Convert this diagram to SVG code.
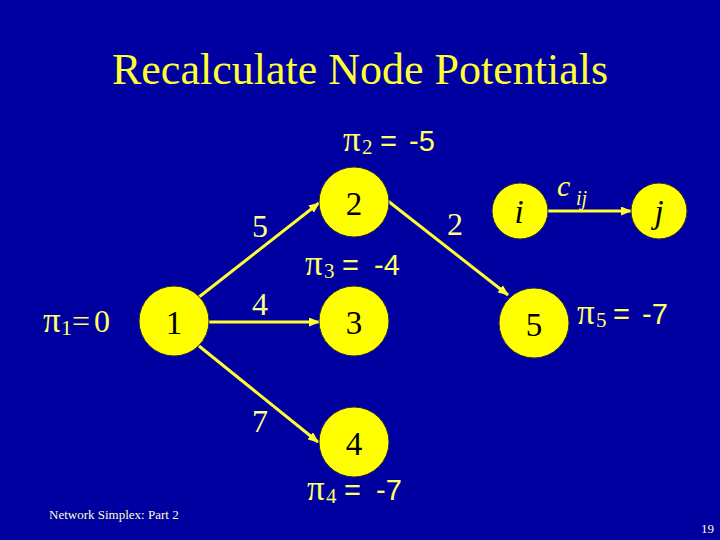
<svg xmlns="http://www.w3.org/2000/svg" width="720" height="540" viewBox="0 0 720 540">
<defs>
<style>
.bg{fill:#0000A0}
.node{fill:#FFFF00;stroke:#2a2a40;stroke-width:1}
.nt{font-family:"Liberation Serif","Times New Roman",serif;font-size:33px;fill:#000;text-anchor:middle}
.it{font-style:italic}
.edge{stroke:#FFFF33;stroke-width:3;fill:none}
.el{font-family:"Liberation Serif","Times New Roman",serif;font-size:32px;fill:#FFFF88;text-anchor:middle}
.pi{font-family:"Liberation Serif","Times New Roman",serif;fill:#FFFF66}
.sans{font-family:"Liberation Sans",Arial,sans-serif;fill:#FFFF66;font-size:29px}
.title{font-family:"Liberation Serif","Times New Roman",serif;font-size:44px;fill:#FFFF33;text-anchor:middle}
.foot{font-family:"Liberation Serif","Times New Roman",serif;font-size:13px;fill:#FFFFCC}
</style>
<marker id="ah" markerWidth="11" markerHeight="9" refX="10" refY="4.5" orient="auto" markerUnits="userSpaceOnUse">
<path d="M0,0 L11,4.5 L0,9 Z" fill="#FFFF33"/>
</marker>
</defs>
<rect class="bg" x="0" y="0" width="720" height="540"/>
<text class="title" x="360" y="84">Recalculate Node Potentials</text>

<g id="connectors">
<line class="edge" x1="199" y1="297" x2="319" y2="203" marker-end="url(#ah)"/>
<line class="edge" x1="209" y1="322" x2="319" y2="322" marker-end="url(#ah)"/>
<line class="edge" x1="199" y1="346" x2="318" y2="442" marker-end="url(#ah)"/>
<line class="edge" x1="388" y1="201" x2="508" y2="295" marker-end="url(#ah)"/>
<line class="edge" x1="548" y1="211" x2="631" y2="211" marker-end="url(#ah)"/>
<text class="el" x="260" y="237">5</text>
<text class="el" x="260" y="315">4</text>
<text class="el" x="260" y="432">7</text>
<text class="el" x="455" y="235">2</text>
<text class="pi it" x="557" y="196" font-size="30">c</text>
<text class="pi it" x="576" y="205" font-size="20">ij</text>
</g>

<g id="node1">
<circle class="node" cx="174" cy="321" r="35"/>
<text class="nt" x="174" y="334">1</text>
</g>
<g id="node2">
<circle class="node" cx="354" cy="202" r="35"/>
<text class="nt" x="354" y="215">2</text>
</g>
<g id="node3">
<circle class="node" cx="354" cy="321" r="35"/>
<text class="nt" x="354" y="334">3</text>
</g>
<g id="node4">
<circle class="node" cx="354" cy="442" r="35"/>
<text class="nt" x="354" y="455">4</text>
</g>
<g id="node5">
<circle class="node" cx="534" cy="323" r="35"/>
<text class="nt" x="534" y="336">5</text>
</g>
<g id="nodei">
<circle class="node" cx="520" cy="211" r="28"/>
<text class="nt it" x="519" y="223">i</text>
</g>
<g id="nodej">
<circle class="node" cx="659" cy="211" r="28"/>
<text class="nt it" x="659" y="223">j</text>
</g>

<g id="potentials">
<text y="151"><tspan class="pi" x="343" font-size="35">π</tspan><tspan class="pi" x="362" dy="3" font-size="21">2</tspan><tspan class="sans" x="380" dy="-3">=</tspan><tspan class="sans" x="409">-5</tspan></text>
<text y="275"><tspan class="pi" x="305" font-size="35">π</tspan><tspan class="pi" x="324" dy="3" font-size="21">3</tspan><tspan class="sans" x="342" dy="-3">=</tspan><tspan class="sans" x="374">-4</tspan></text>
<text y="500"><tspan class="pi" x="307" font-size="35">π</tspan><tspan class="pi" x="326" dy="3" font-size="21">4</tspan><tspan class="sans" x="344" dy="-3">=</tspan><tspan class="sans" x="376">-7</tspan></text>
<text y="324"><tspan class="pi" x="577" font-size="35">π</tspan><tspan class="pi" x="596" dy="3" font-size="21">5</tspan><tspan class="sans" x="613" dy="-3">=</tspan><tspan class="sans" x="642">-7</tspan></text>
<text class="pi" y="332"><tspan x="43" font-size="35">π</tspan><tspan x="61" dy="3" font-size="22">1</tspan><tspan x="72" dy="-3" font-size="32">=</tspan><tspan x="94" font-size="32">0</tspan></text>
</g>

<text class="foot" x="49" y="519">Network Simplex: Part 2</text>
<text class="foot" x="701" y="533" font-size="12" fill="#FFFFFF">19</text>
</svg>
